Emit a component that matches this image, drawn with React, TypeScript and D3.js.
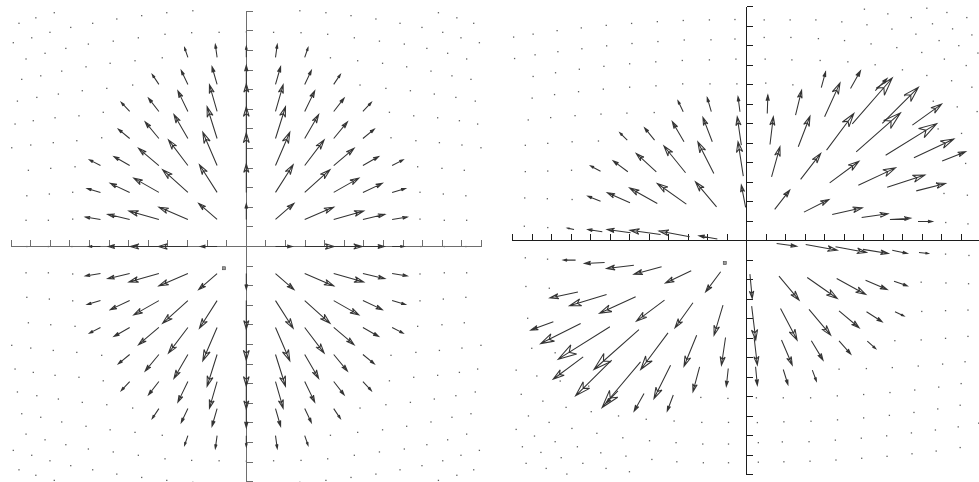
import React from "react";
import * as d3 from "d3";

const W = 979;
const H = 482;

// Tick positions shared by both panels (axis units)
const TICKS = [-12, -11, -10, -9, -8, -7, -6, -5, -4, -3, -2, -1, 0, 1, 2, 3, 4, 5, 6, 7, 8, 9, 10, 11, 12];

// ---------- Left panel: radial field sampled on a regular grid ----------
const LEFT_COLS = [-7.44, -5.95, -4.46, -2.98, -1.49, 0, 1.49, 2.98, 4.46, 5.95, 7.44];
const LEFT_ROWS = [9.65, 8.27, 6.89, 5.51, 4.13, 2.76, 1.38, 0, -1.38, -2.76, -4.13, -5.51, -6.89, -8.27, -9.65];

const LEFT_U = [
  [0, 0, 0, -0.17, -0.09, 0, 0.09, 0.17, 0, 0, 0],
  [0, 0, -0.34, -0.34, -0.26, 0, 0.26, 0.34, 0.34, 0, 0],
  [0, -0.43, -0.53, -0.51, -0.39, 0, 0.39, 0.51, 0.53, 0.43, 0],
  [0, -0.58, -0.7, -0.71, -0.51, 0, 0.51, 0.71, 0.7, 0.58, 0],
  [-0.56, -0.8, -1.04, -0.99, -0.73, 0, 0.73, 0.99, 1.04, 0.8, 0.56],
  [-0.68, -0.99, -1.28, -1.29, -0.9, 0, 0.9, 1.29, 1.28, 0.99, 0.68],
  [-0.77, -1.12, -1.53, -1.48, -0.94, 0, 0.94, 1.48, 1.53, 1.12, 0.77],
  [-0.61, -1.09, -1.46, -1.5, -0.85, 0, 0.85, 1.5, 1.46, 1.09, 0.61],
  [-0.77, -1.12, -1.53, -1.48, -0.94, 0, 0.94, 1.48, 1.53, 1.12, 0.77],
  [-0.68, -0.99, -1.28, -1.29, -0.9, 0, 0.9, 1.29, 1.28, 0.99, 0.68],
  [-0.56, -0.8, -1.04, -0.99, -0.73, 0, 0.73, 0.99, 1.04, 0.8, 0.56],
  [0, -0.58, -0.7, -0.71, -0.51, 0, 0.51, 0.71, 0.7, 0.58, 0],
  [0, -0.43, -0.53, -0.51, -0.39, 0, 0.39, 0.51, 0.53, 0.43, 0],
  [0, 0, -0.34, -0.34, -0.26, 0, 0.26, 0.34, 0.34, 0, 0],
  [0, 0, 0, -0.17, -0.09, 0, 0.09, 0.17, 0, 0, 0],
];

const LEFT_V = [
  [0, 0, 0, 0.49, 0.65, 0.56, 0.65, 0.49, 0, 0, 0],
  [0, 0, 0.51, 0.71, 0.9, 0.97, 0.9, 0.71, 0.51, 0, 0],
  [0, 0.46, 0.68, 1.05, 1.36, 1.41, 1.36, 1.05, 0.68, 0.46, 0],
  [0, 0.48, 0.85, 1.22, 1.62, 1.62, 1.62, 1.22, 0.85, 0.48, 0],
  [0.29, 0.46, 0.88, 1.31, 1.7, 1.67, 1.7, 1.31, 0.88, 0.46, 0.29],
  [0.2, 0.46, 0.73, 1.16, 1.41, 1.46, 1.41, 1.16, 0.73, 0.46, 0.2],
  [0.12, 0.26, 0.43, 0.63, 0.82, 0.8, 0.82, 0.63, 0.43, 0.26, 0.12],
  [0, 0, 0, 0, 0, 0, 0, 0, 0, 0, 0],
  [-0.12, -0.26, -0.43, -0.63, -0.82, -0.8, -0.82, -0.63, -0.43, -0.26, -0.12],
  [-0.2, -0.46, -0.73, -1.16, -1.41, -1.46, -1.41, -1.16, -0.73, -0.46, -0.2],
  [-0.29, -0.46, -0.88, -1.31, -1.7, -1.67, -1.7, -1.31, -0.88, -0.46, -0.29],
  [0, -0.48, -0.85, -1.22, -1.62, -1.62, -1.62, -1.22, -0.85, -0.48, 0],
  [0, -0.46, -0.68, -1.05, -1.36, -1.41, -1.36, -1.05, -0.68, -0.46, 0],
  [0, 0, -0.51, -0.71, -0.9, -0.97, -0.9, -0.71, -0.51, 0, 0],
  [0, 0, 0, -0.49, -0.65, -0.56, -0.65, -0.49, 0, 0, 0],
];

// Sample points where the left field has vanished
const LEFT_DOTS: [number, number][] = [
  // upper left
  [-9.8, 11.93], [-10.74, 11.67], [-11.6, 11.39],
  [-2.73, 12.03], [-4.06, 11.93], [-5.34, 11.78], [-6.61, 11.61], [-7.84, 11.39], [-8.96, 11.18], [-10.02, 10.93], [-10.95, 10.65], [-11.89, 10.4],
  [-1.39, 10.93], [-2.79, 10.91], [-4.15, 10.83], [-5.51, 10.65], [-6.79, 10.48], [-8.06, 10.33], [-9.21, 10.11], [-10.27, 9.86], [-11.24, 9.57],
  [-4.29, 9.63], [-5.68, 9.48], [-6.95, 9.35], [-8.18, 9.17], [-9.42, 8.95], [-10.49, 8.71], [-11.46, 8.53],
  [-5.8, 8.24], [-7.12, 8.07], [-8.37, 7.95], [-9.59, 7.78], [-10.69, 7.61], [-11.68, 7.42],
  [-7.3, 6.85], [-8.54, 6.67], [-9.76, 6.57], [-10.87, 6.42], [-11.8, 6.25],
  [-7.38, 5.55], [-8.65, 5.4], [-9.85, 5.3], [-11.0, 5.18], [-11.97, 5.04],
  [-8.74, 4.07], [-9.98, 3.99], [-11.12, 3.89],
  [-8.86, 2.77], [-10.05, 2.68], [-11.2, 2.59],
  [-8.86, 1.4], [-10.1, 1.34], [-11.24, 1.34],
  // upper right
  [9.8, 11.93], [10.74, 11.67], [11.6, 11.39],
  [2.73, 12.03], [4.06, 11.93], [5.34, 11.78], [6.61, 11.61], [7.84, 11.39], [8.96, 11.18], [10.02, 10.93], [10.95, 10.65], [11.89, 10.4],
  [1.39, 10.93], [2.79, 10.91], [4.15, 10.83], [5.51, 10.65], [6.79, 10.48], [8.06, 10.33], [9.21, 10.11], [10.27, 9.86], [11.24, 9.57],
  [4.29, 9.63], [5.68, 9.48], [6.95, 9.35], [8.18, 9.17], [9.42, 8.95], [10.49, 8.71], [11.46, 8.53],
  [5.8, 8.24], [7.12, 8.07], [8.37, 7.95], [9.59, 7.78], [10.69, 7.61], [11.68, 7.42],
  [7.3, 6.85], [8.54, 6.67], [9.76, 6.57], [10.87, 6.42], [11.8, 6.25],
  [7.38, 5.55], [8.65, 5.4], [9.85, 5.3], [11.0, 5.18], [11.97, 5.04],
  [8.74, 4.07], [9.98, 3.99], [11.12, 3.89],
  [8.86, 2.77], [10.05, 2.68], [11.2, 2.59],
  [8.86, 1.4], [10.1, 1.34], [11.24, 1.34],
  // lower left
  [-9.8, -11.93], [-10.74, -11.67], [-11.6, -11.39],
  [-2.73, -12.03], [-4.06, -11.93], [-5.34, -11.78], [-6.61, -11.61], [-7.84, -11.39], [-8.96, -11.18], [-10.02, -10.93], [-10.95, -10.65], [-11.89, -10.4],
  [-1.39, -10.93], [-2.79, -10.91], [-4.15, -10.83], [-5.51, -10.65], [-6.79, -10.48], [-8.06, -10.33], [-9.21, -10.11], [-10.27, -9.86], [-11.24, -9.57],
  [-4.29, -9.63], [-5.68, -9.48], [-6.95, -9.35], [-8.18, -9.17], [-9.42, -8.95], [-10.49, -8.71], [-11.46, -8.53],
  [-5.8, -8.24], [-7.12, -8.07], [-8.37, -7.95], [-9.59, -7.78], [-10.69, -7.61], [-11.68, -7.42],
  [-7.3, -6.85], [-8.54, -6.67], [-9.76, -6.57], [-10.87, -6.42], [-11.8, -6.25],
  [-7.38, -5.55], [-8.65, -5.4], [-9.85, -5.3], [-11.0, -5.18], [-11.97, -5.04],
  [-8.74, -4.07], [-9.98, -3.99], [-11.12, -3.89],
  [-8.86, -2.77], [-10.05, -2.68], [-11.2, -2.59],
  [-8.86, -1.4], [-10.1, -1.34], [-11.24, -1.34],
  // lower right
  [9.8, -11.93], [10.74, -11.67], [11.6, -11.39],
  [2.73, -12.03], [4.06, -11.93], [5.34, -11.78], [6.61, -11.61], [7.84, -11.39], [8.96, -11.18], [10.02, -10.93], [10.95, -10.65], [11.89, -10.4],
  [1.39, -10.93], [2.79, -10.91], [4.15, -10.83], [5.51, -10.65], [6.79, -10.48], [8.06, -10.33], [9.21, -10.11], [10.27, -9.86], [11.24, -9.57],
  [4.29, -9.63], [5.68, -9.48], [6.95, -9.35], [8.18, -9.17], [9.42, -8.95], [10.49, -8.71], [11.46, -8.53],
  [5.8, -8.24], [7.12, -8.07], [8.37, -7.95], [9.59, -7.78], [10.69, -7.61], [11.68, -7.42],
  [7.3, -6.85], [8.54, -6.67], [9.76, -6.57], [10.87, -6.42], [11.8, -6.25],
  [7.38, -5.55], [8.65, -5.4], [9.85, -5.3], [11.0, -5.18], [11.97, -5.04],
  [8.74, -4.07], [9.98, -3.99], [11.12, -3.89],
  [8.86, -2.77], [10.05, -2.68], [11.2, -2.59],
  [8.86, -1.4], [10.1, -1.34], [11.24, -1.34],
  // on the axes
  [-8.9, 0], [-10.1, 0], [-11.2, 0], [8.9, 0], [10.1, 0], [11.2, 0], [0, 10.95], [0, -10.95],
];

// ---------- Right panel: sheared field, [x, y, u, v] ----------
const RIGHT_ARROWS: [number, number, number, number][] = [
  // first quadrant
  [1.44, 1.61, 0.77, 0.99], [2.94, 1.47, 1.28, 0.65], [4.39, 1.35, 1.54, 0.34], [5.9, 1.2, 1.35, 0.19], [7.35, 1.09, 1.06, 0.07], [8.79, 0.99, 0.74, 0.0],
  [1.28, 3.28, 0.43, 1.54], [2.77, 3.15, 1.03, 1.33], [4.26, 2.97, 1.5, 1.11], [5.73, 2.85, 1.91, 0.89], [7.21, 2.74, 1.93, 0.63], [8.7, 2.56, 1.5, 0.38],
  [1.2, 4.94, 0.17, 1.42], [2.65, 4.82, 0.6, 1.57], [4.1, 4.65, 1.4, 1.88], [5.62, 4.56, 2.27, 2.0], [7.13, 4.39, 2.62, 1.62], [8.58, 4.26, 2.05, 0.96], [10.03, 4.09, 1.2, 0.48],
  [1.06, 6.53, 0.03, 0.94], [2.51, 6.44, 0.31, 1.28], [4.0, 6.36, 0.79, 1.74], [5.42, 6.0, 2.05, 2.35], [6.96, 6.02, 1.85, 1.85], [8.5, 5.93, 1.5, 1.08],
  [3.83, 7.86, 0.22, 0.8], [5.33, 7.81, 0.51, 0.91], [6.6, 7.7, 0.6, 0.62],
  // second quadrant
  [-1.5, 0.09, -0.94, 0.17], [-2.92, 0.21, -1.57, 0.29], [-4.41, 0.32, -1.57, 0.22], [-5.95, 0.41, -1.2, 0.17], [-7.4, 0.46, -0.74, 0.12], [-8.85, 0.58, -0.34, 0.07],
  [-0.05, 1.71, -0.22, 1.15], [-1.54, 1.74, -1.08, 1.28], [-3.09, 1.88, -1.49, 1.06], [-4.58, 1.91, -1.42, 0.8], [-5.98, 1.95, -1.16, 0.51], [-7.49, 2.03, -0.65, 0.26],
  [-0.17, 3.32, -0.27, 1.76], [-1.68, 3.45, -0.82, 1.62], [-3.13, 3.49, -1.11, 1.37], [-4.63, 3.54, -1.03, 0.94], [-6.09, 3.54, -0.75, 0.56], [-7.49, 3.57, -0.51, 0.27],
  [-0.27, 4.91, -0.21, 1.45], [-1.76, 5.08, -0.48, 1.25], [-3.21, 5.08, -0.6, 1.03], [-4.72, 5.16, -0.51, 0.63], [-6.12, 5.16, -0.38, 0.38],
  [-0.34, 6.62, -0.1, 0.77], [-1.81, 6.62, -0.21, 0.72], [-3.25, 6.62, -0.27, 0.56],
  // fourth quadrant
  [1.54, -0.14, 1.03, -0.14], [3.03, -0.19, 1.62, -0.29], [4.56, -0.31, 1.59, -0.29], [5.97, -0.44, 1.3, -0.21], [7.47, -0.48, 0.77, -0.17], [8.84, -0.6, 0.48, -0.05],
  [0.17, -1.71, 0.12, -1.25], [1.66, -1.81, 1.03, -1.23], [3.11, -1.88, 1.54, -1.08], [4.62, -1.93, 1.49, -0.82], [6.1, -2.02, 1.11, -0.48], [7.56, -2.07, 0.68, -0.24],
  [0.26, -3.35, 0.21, -1.74], [1.74, -3.47, 0.85, -1.62], [3.2, -3.52, 1.11, -1.32], [4.74, -3.59, 1.03, -0.87], [6.15, -3.64, 0.8, -0.51], [7.61, -3.64, 0.46, -0.22],
  [0.38, -4.92, 0.17, -1.45], [1.79, -5.09, 0.55, -1.28], [3.32, -5.13, 0.6, -0.99], [4.74, -5.13, 0.6, -0.68], [6.19, -5.15, 0.43, -0.38],
  [0.46, -6.46, 0.09, -0.94], [1.88, -6.6, 0.24, -0.77], [3.37, -6.63, 0.21, -0.56],
  // third quadrant
  [-1.33, -1.59, -0.77, -1.03], [-2.84, -1.54, -1.32, -0.62], [-4.36, -1.33, -1.42, -0.39], [-5.78, -1.25, -1.4, -0.17], [-7.28, -1.11, -1.03, -0.05], [-8.77, -0.99, -0.63, 0.0],
  [-1.21, -3.3, -0.46, -1.54], [-2.75, -3.18, -0.92, -1.28], [-4.21, -3.04, -1.44, -1.08], [-5.69, -2.87, -1.85, -0.85], [-7.18, -2.75, -1.9, -0.58], [-8.65, -2.62, -1.44, -0.31],
  [-1.08, -4.96, -0.21, -1.42], [-2.56, -4.84, -0.65, -1.59], [-4.03, -4.72, -1.4, -1.88], [-5.52, -4.55, -2.31, -2.05], [-7.01, -4.41, -2.65, -1.66], [-8.51, -4.24, -2.05, -1.03], [-9.91, -4.15, -1.16, -0.43],
  [-0.94, -6.55, -0.1, -0.91], [-2.41, -6.46, -0.34, -1.28], [-3.9, -6.38, -0.85, -1.71], [-5.44, -6.21, -1.97, -2.34], [-6.92, -6.12, -1.85, -1.83], [-8.38, -5.95, -1.54, -1.15],
  [-3.76, -7.91, -0.31, -0.82], [-5.26, -7.83, -0.51, -0.91], [-6.6, -7.7, -0.6, -0.62],
];

const RIGHT_DOTS: [number, number][] = [
  // first quadrant
  [0.9, 11.33], [2.23, 11.33], [3.55, 11.33], [4.88, 11.23], [6.17, 11.08], [7.45, 10.86], [8.68, 10.6], [9.87, 10.27], [10.88, 10.01], [11.86, 9.63],
  [0.9, 10.43], [2.27, 10.43], [3.68, 10.37], [5.02, 10.27], [6.38, 10.1], [7.7, 9.91], [8.98, 9.66], [10.14, 9.32], [11.26, 8.99],
  [0.95, 9.32], [2.32, 9.28], [3.77, 9.25], [5.19, 9.18], [6.59, 9.03], [7.99, 8.77], [9.24, 8.48], [10.51, 8.21], [11.55, 7.88],
  [0.98, 8.09], [2.37, 8.0], [8.1, 7.45], [9.57, 7.16], [10.8, 6.87], [11.82, 6.63], [9.82, 5.74], [11.02, 5.51],
  [6.04, 11.88], [7.24, 11.64], [8.44, 11.45], [9.53, 11.13], [10.56, 10.87], [11.55, 10.56],
  [9.24, 11.93], [10.27, 11.71], [11.29, 11.45],
  [10.21, 0.94], [11.35, 0.87], [10.12, 2.43], [11.32, 2.34], [11.23, 3.97],
  // third quadrant
  [-0.93, -11.38], [-2.22, -11.38], [-3.58, -11.33], [-4.86, -11.21], [-6.19, -11.04], [-7.48, -10.87], [-8.68, -10.56], [-9.82, -10.3], [-10.88, -10.01], [-11.82, -9.67],
  [-0.93, -10.42], [-2.25, -10.42], [-3.62, -10.35], [-4.98, -10.25], [-6.35, -10.1], [-7.68, -9.87], [-8.96, -9.62], [-10.13, -9.31], [-11.19, -8.98],
  [-0.93, -9.31], [-2.3, -9.31], [-3.72, -9.24], [-5.15, -9.15], [-6.57, -8.98], [-7.97, -8.76], [-9.26, -8.54], [-10.45, -8.22], [-11.56, -7.87],
  [-0.96, -8.08], [-2.35, -8.03], [-8.1, -7.45], [-9.56, -7.19], [-10.76, -6.93], [-11.82, -6.63], [-9.82, -5.74], [-11.02, -5.51],
  [-6.01, -11.84], [-7.21, -11.67], [-8.4, -11.41], [-9.51, -11.12], [-10.55, -10.85], [-11.5, -10.56],
  [-9.22, -11.96], [-10.28, -11.67], [-11.31, -11.41],
  [-10.21, -0.94], [-11.35, -0.87], [-10.12, -2.43], [-11.32, -2.34], [-11.23, -3.97],
  // fourth quadrant
  [10.2, -0.68], [11.4, -0.75],
  [8.95, -2.12], [10.22, -2.16], [11.38, -2.2],
  [8.98, -3.62], [10.2, -3.58], [11.35, -3.55],
  [7.6, -5.12], [8.95, -5.08], [10.2, -5.0], [11.35, -4.9],
  [4.74, -6.58], [6.14, -6.55], [7.47, -6.5], [8.8, -6.42], [10.05, -6.32], [11.2, -6.2],
  [0.5, -8.05], [1.88, -8.05], [3.28, -8.05], [4.65, -7.95], [6.0, -7.88], [7.35, -7.78], [8.62, -7.65], [9.85, -7.5], [11.0, -7.32],
  [0.55, -9.32], [1.91, -9.28], [3.3, -9.25], [4.66, -9.18], [6.0, -9.08], [7.32, -8.95], [8.58, -8.8], [9.8, -8.62], [10.95, -8.43],
  [0.6, -10.35], [1.83, -10.31], [3.2, -10.3], [4.55, -10.22], [5.88, -10.12], [7.18, -10.0], [8.45, -9.85], [9.68, -9.7], [10.85, -9.54], [11.9, -9.35],
  [0.6, -11.35], [1.91, -11.33], [3.25, -11.3], [4.58, -11.24], [5.9, -11.15], [7.2, -11.05], [8.48, -10.92], [9.72, -10.78], [10.95, -10.6], [11.95, -10.45],
  // second quadrant
  [-10.2, 0.68], [-11.4, 0.75],
  [-8.95, 2.12], [-10.22, 2.16], [-11.38, 2.2],
  [-8.98, 3.62], [-10.2, 3.58], [-11.35, 3.55],
  [-7.6, 5.12], [-8.95, 5.08], [-10.2, 5.0], [-11.35, 4.9],
  [-4.74, 6.58], [-6.14, 6.55], [-7.47, 6.5], [-8.8, 6.42], [-10.05, 6.32], [-11.2, 6.2],
  [-0.5, 8.05], [-1.88, 8.05], [-3.28, 8.05], [-4.65, 7.95], [-6.0, 7.88], [-7.35, 7.78], [-8.62, 7.65], [-9.85, 7.5], [-11.0, 7.32],
  [-0.55, 9.32], [-1.91, 9.28], [-3.3, 9.25], [-4.66, 9.18], [-6.0, 9.08], [-7.32, 8.95], [-8.58, 8.8], [-9.8, 8.62], [-10.95, 8.43],
  [-0.6, 10.35], [-1.83, 10.31], [-3.2, 10.3], [-4.55, 10.22], [-5.88, 10.12], [-7.18, 10.0], [-8.45, 9.85], [-9.68, 9.7], [-10.85, 9.54], [-11.9, 9.35],
  [-0.6, 11.35], [-1.91, 11.33], [-3.25, 11.3], [-4.58, 11.24], [-5.9, 11.15], [-7.2, 11.05], [-8.48, 10.92], [-9.72, 10.78], [-10.95, 10.6], [-11.95, 10.45],
];

// Small marked point in each panel
const LEFT_MARK: [number, number] = [-1.14, -1.11];
const RIGHT_MARK: [number, number] = [-1.12, -1.14];

type Arrow = { x: number; y: number; u: number; v: number };

const leftArrows: Arrow[] = [];
LEFT_ROWS.forEach((y, r) => {
  LEFT_COLS.forEach((x, c) => {
    const u = LEFT_U[r][c];
    const v = LEFT_V[r][c];
    if (u !== 0 || v !== 0) leftArrows.push({ x, y, u, v });
  });
});
const rightArrows: Arrow[] = RIGHT_ARROWS.map(([x, y, u, v]) => ({ x, y, u, v }));

// Shaft plus a hollow, notched head
function arrowPath(x0: number, y0: number, x1: number, y1: number): string {
  const dx = x1 - x0;
  const dy = y1 - y0;
  const len = Math.hypot(dx, dy);
  if (len < 0.5) return "";
  const ux = dx / len;
  const uy = dy / len;
  const px = -uy;
  const py = ux;
  const hl = len * 0.3;
  const hw = len * 0.09;
  const bx = x1 - ux * hl;
  const by = y1 - uy * hl;
  const nx = x1 - ux * hl * 0.7;
  const ny = y1 - uy * hl * 0.7;
  const p = d3.path();
  p.moveTo(x0, y0);
  p.lineTo(x1, y1);
  p.moveTo(bx + px * hw, by + py * hw);
  p.lineTo(x1, y1);
  p.lineTo(bx - px * hw, by - py * hw);
  p.lineTo(nx, ny);
  p.closePath();
  return p.toString();
}

type PanelProps = {
  ox: number;
  oy: number;
  unit: number;
  axisColor: string;
  arrowColor: string;
  arrows: Arrow[];
  dots: [number, number][];
  mark: [number, number];
};

function Panel({ ox, oy, unit, axisColor, arrowColor, arrows, dots, mark }: PanelProps) {
  const x = d3.scaleLinear().domain([-12, 12]).range([ox - 12 * unit, ox + 12 * unit]);
  const y = d3.scaleLinear().domain([-12, 12]).range([oy + 12 * unit, oy - 12 * unit]);
  const tickLen = 6.5;
  return (
    <g>
      {dots.map(([dx, dy], i) => (
        <rect key={"d" + i} x={x(dx) - 0.6} y={y(dy) - 0.6} width={1.3} height={1.3} fill="#5e5e5e" />
      ))}
      <g shapeRendering="crispEdges" stroke={axisColor} strokeWidth={1}>
        <line x1={x(-12)} x2={x(12)} y1={y(0)} y2={y(0)} />
        <line x1={x(0)} x2={x(0)} y1={y(12)} y2={y(-12)} />
        {TICKS.filter((t) => t !== 0).map((t) => (
          <line key={"tx" + t} x1={x(t)} x2={x(t)} y1={y(0)} y2={y(0) - tickLen} />
        ))}
        {TICKS.filter((t) => t !== 0).map((t) => (
          <line key={"ty" + t} x1={x(0)} x2={x(0) + tickLen} y1={y(t)} y2={y(t)} />
        ))}
      </g>
      <g fill="none" stroke={arrowColor} strokeWidth={1.05} strokeLinejoin="miter">
        {arrows.map((a, i) => (
          <path key={"a" + i} d={arrowPath(x(a.x), y(a.y), x(a.x + a.u), y(a.y + a.v))} />
        ))}
      </g>
      <rect x={x(mark[0]) - 1.5} y={y(mark[1]) - 1.5} width={3} height={3} fill="#9a9a9a" stroke="#444" strokeWidth={0.6} />
    </g>
  );
}

export default function App() {
  return (
    <svg
      width={W}
      height={H}
      viewBox={`0 0 ${W} ${H}`}
      style={{ position: "absolute", left: 0, top: 0, background: "#fff" }}
    >
      <rect width={W} height={H} fill="#fff" />
      <Panel ox={246.3} oy={246.5} unit={19.6} axisColor="#6e6e6e" arrowColor="#333333" arrows={leftArrows} dots={LEFT_DOTS} mark={LEFT_MARK} />
      <Panel ox={746.6} oy={240.8} unit={19.5} axisColor="#1c1c1c" arrowColor="#333333" arrows={rightArrows} dots={RIGHT_DOTS} mark={RIGHT_MARK} />
    </svg>
  );
}
